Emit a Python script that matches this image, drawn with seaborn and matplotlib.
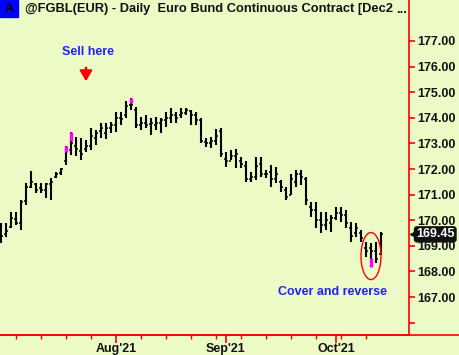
import matplotlib
matplotlib.use("Agg")
import matplotlib.pyplot as plt
from matplotlib.lines import Line2D
from matplotlib.patches import Ellipse, Rectangle
import seaborn as sns
import pandas as pd
import numpy as np

# ---------------- data ----------------
dates = pd.bdate_range("2021-06-30", "2021-10-14")
highs = [169.89, 169.89, 170.32, 170.32, 170.79, 171.45, 171.92, 171.45, 171.45, 171.45,
         171.65, 171.88, 172.04, 172.90, 173.45, 173.25, 173.21, 173.13, 173.60, 173.52,
         173.80, 173.80, 173.84, 174.23, 174.23, 174.66, 174.77, 174.42, 174.03, 174.11,
         173.99, 174.03, 173.99, 174.23, 174.38, 174.23, 174.38, 174.38, 174.30, 174.23,
         173.99, 173.21, 173.25, 173.56, 173.60, 172.66, 172.74, 172.78, 172.47, 172.31,
         171.88, 172.47, 172.47, 171.96, 172.16, 172.08, 171.57, 171.30, 171.80, 171.96,
         171.96, 171.69, 170.71, 170.71, 170.32, 170.32, 170.20, 170.52, 170.52, 170.40,
         169.93, 169.89, 169.62, 169.15, 169.11, 169.15, 169.54]
lows = [169.11, 169.34, 169.70, 169.81, 169.62, 170.59, 171.26, 171.06, 171.06, 170.87,
        170.79, 171.65, 171.77, 172.16, 172.55, 172.51, 172.35, 172.66, 172.74, 172.94,
        173.21, 173.17, 173.41, 173.45, 173.72, 173.99, 174.30, 173.60, 173.52, 173.60,
        173.33, 173.52, 173.41, 173.64, 173.80, 173.80, 173.99, 174.11, 173.72, 173.72,
        173.02, 172.86, 172.82, 172.94, 172.47, 172.08, 172.35, 172.04, 172.04, 171.49,
        171.49, 171.57, 171.69, 171.65, 171.30, 171.45, 171.10, 170.79, 170.98, 171.30,
        171.38, 170.59, 170.13, 169.70, 169.50, 169.62, 169.54, 170.01, 169.93, 169.70,
        169.15, 169.34, 169.15, 168.56, 168.17, 168.33, 168.64]
opens = [169.80, 169.45, 169.75, 170.05, 169.90, 170.75, 171.30, 171.40, 171.25, 171.20,
         171.40, 171.70, 171.85, 172.30, 172.75, 172.90, 172.70, 172.80, 172.90, 173.20,
         173.50, 173.40, 173.60, 173.70, 174.00, 174.10, 174.50, 174.30, 173.70, 173.80,
         173.75, 173.70, 173.80, 173.90, 174.00, 174.10, 174.10, 174.20, 174.25, 174.10,
         173.90, 173.05, 173.00, 173.10, 173.50, 172.40, 172.30, 172.50, 172.30, 172.10,
         171.60, 171.70, 172.20, 171.80, 171.90, 171.60, 171.50, 171.20, 171.00, 171.50,
         171.80, 171.60, 170.50, 170.40, 170.00, 169.80, 169.90, 170.10, 170.30, 170.20,
         169.70, 169.50, 169.50, 168.90, 168.90, 168.80, 168.70]
closes = [169.40, 169.60, 170.10, 169.90, 170.70, 171.30, 171.50, 171.20, 171.20, 171.40,
          171.50, 171.80, 172.00, 172.70, 173.00, 172.80, 172.60, 172.90, 173.30, 173.40,
          173.60, 173.60, 173.70, 174.00, 173.95, 174.45, 174.50, 173.70, 173.80, 173.70,
          173.80, 173.80, 173.90, 174.00, 174.10, 174.00, 174.20, 174.30, 174.10, 173.90,
          173.10, 173.00, 173.10, 173.30, 172.60, 172.30, 172.50, 172.60, 172.20, 171.60,
          171.70, 172.10, 171.80, 171.80, 171.60, 171.80, 171.30, 170.90, 171.60, 171.80,
          171.70, 170.80, 170.40, 170.00, 169.80, 170.00, 170.10, 170.30, 170.20, 169.90,
          169.40, 169.70, 169.30, 168.80, 168.80, 168.50, 169.45]
# highlighted (magenta) bar segments: bar index, top, bottom
mag_idx = [13, 14, 26, 74]
mag_top = [172.90, 173.45, 174.77, 168.52]
mag_bot = [172.66, 173.09, 174.58, 168.17]
ytick_vals = [166, 167, 168, 169, 170, 171, 172, 173, 174, 175, 176, 177]
last_price = 169.45
title = "@FGBL(EUR) - Daily  Euro Bund Continuous Contract [Dec2"

# ---------------- style ----------------
sns.set_theme(style="white")
plt.rcParams["font.family"] = ["Liberation Sans", "DejaVu Sans"]
BG = "#ECFAC6"
RED = "#FF0000"

df = pd.DataFrame({"date": dates, "open": opens, "high": highs,
                   "low": lows, "close": closes})
df["x"] = np.arange(len(df))

YMIN, YMAX = 165.52, 178.6
fig = plt.figure(figsize=(4.59, 3.55), dpi=100)
fig.patch.set_facecolor(BG)
ax = fig.add_axes([0, 20 / 355, 409 / 459, 335 / 355])
ax.set_facecolor(BG)

# OHLC bars
ax.vlines(df["x"], df["low"], df["high"], color="black", lw=1.5, zorder=3)
ax.hlines(df["open"], df["x"] - 0.45, df["x"], color="black", lw=1.1, zorder=3)
ax.hlines(df["close"], df["x"], df["x"] + 0.45, color="black", lw=1.1, zorder=3)
ax.vlines(mag_idx, mag_bot, mag_top, color="#FF00FF", lw=2.4, zorder=4)

ax.set_xlim(-0.2, 81.6)
ax.set_ylim(YMIN, YMAX)

# y axis on right
for s in ["left", "top"]:
    ax.spines[s].set_visible(False)
for s in ["right", "bottom"]:
    ax.spines[s].set_color(RED)
    ax.spines[s].set_linewidth(1.2)
ax.yaxis.tick_right()
ax.set_yticks(ytick_vals)
ax.set_yticklabels(["" if v == 166 else f"{v:.2f}" for v in ytick_vals],
                   fontsize=9, fontweight="bold", color="#111111")
ax.tick_params(axis="y", colors=RED, labelcolor="#111111", length=4, width=1.2, pad=2,
               right=True, left=False)

# x axis ticks
month_first = df.groupby(df["date"].dt.to_period("M"))["x"].min()
major_x = [int(v) for p, v in month_first.items() if v > 5]
major_lab = [df["date"][v].strftime("%b'%y") for v in major_x]
minor_x = [int(v) for v in df["x"][df["date"].dt.weekday == 0] if v not in major_x]
ax.set_xticks(major_x)
ax.set_xticklabels(major_lab, fontsize=9, fontweight="bold", color="#111111")
ax.set_xticks(minor_x, minor=True)
ax.tick_params(axis="x", which="major", colors=RED, labelcolor="#111111",
               length=6, width=1.2, pad=0, bottom=True)
ax.tick_params(axis="x", which="minor", colors=RED, length=3, width=1.0, bottom=True)
ax.set_xlabel("")
ax.set_ylabel("")
ax.grid(False)

# full-width bottom line
fig.add_artist(Line2D([0, 1], [20 / 355, 20 / 355], color=RED, lw=1.2,
                      transform=fig.transFigure))

# title and badge
fig.add_artist(Rectangle((0, 1 - 17 / 355), 18 / 459, 17 / 355, color="#0000FF",
                         transform=fig.transFigure))
fig.text(9 / 459, 1 - 9 / 355, "A", ha="center", va="center", fontsize=9,
         fontweight="bold", color="black")
ax.text(-0.2 + 25 / 5, YMAX - 9 / 25.6, title, ha="left", va="center",
        fontsize=9.3, fontweight="bold", color="#111111", clip_on=True)
fig.text(396 / 459, 1 - 10 / 355, "...", ha="left", va="center", fontsize=9.3,
         fontweight="bold", color="#111111")

# annotations
ax.text(17.5, 177.0 - (52 - 41) / 25.6, "Sell here", ha="center", va="center",
        fontsize=9, fontweight="bold", color="#1F1FFF")
ax.annotate("", xy=(17.0, 177.0 - (84 - 41) / 25.6), xytext=(17.0, 177.0 - (65 - 41) / 25.6),
            arrowprops=dict(arrowstyle="-|>,head_length=0.5,head_width=0.3",
                            color=RED, lw=1.8))
ax.text(66.2, 177.0 - (292 - 41) / 25.6, "Cover and reverse", ha="center", va="center",
        fontsize=9, fontweight="bold", color="#1F1FFF")
ax.add_patch(Ellipse((74.0, 177.0 - (256 - 41) / 25.6), 4.0, 47 / 25.6,
                     fill=False, edgecolor=RED, lw=1.0, zorder=5))

# last price tag
yfrac = (last_price - YMIN) / (YMAX - YMIN)
ax.plot([1.0 + 5 / 409], [yfrac], marker="<", color="#111111", markersize=6,
        transform=ax.transAxes, clip_on=False, zorder=9)
ax.text(1.0 + 7 / 409, yfrac, f"{last_price:.2f}",
        transform=ax.transAxes, ha="left", va="center", fontsize=9, fontweight="bold",
        color="white", zorder=10, clip_on=False,
        bbox=dict(boxstyle="round,pad=0.12,rounding_size=0.2", facecolor="#111111",
                  edgecolor="#111111"))

fig.savefig("out.png", dpi=100, facecolor=BG)
